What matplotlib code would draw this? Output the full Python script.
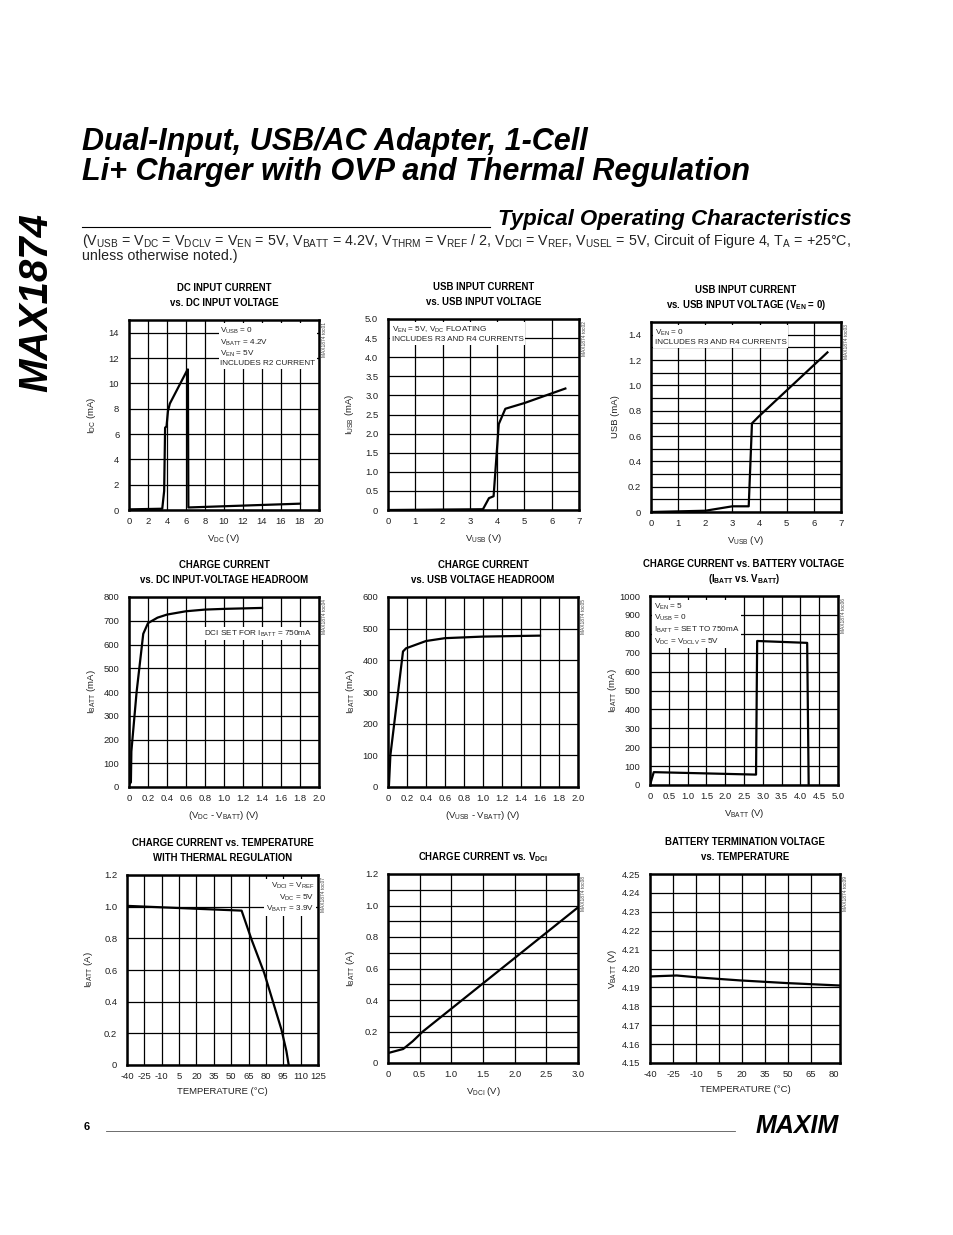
import matplotlib
matplotlib.use("Agg")
import matplotlib.pyplot as plt
from matplotlib.lines import Line2D

FONT = "Liberation Sans"
plt.rcParams['font.family'] = [FONT, 'DejaVu Sans']
plt.rcParams['mathtext.fontset'] = 'custom'
plt.rcParams['mathtext.rm'] = FONT
plt.rcParams['mathtext.it'] = FONT + ':italic'
plt.rcParams['mathtext.bf'] = FONT + ':bold'
plt.rcParams['mathtext.default'] = 'regular'
plt.rcParams['axes.unicode_minus'] = False

# ---- data ----
dc_v = [0, 3.5, 3.7, 3.8, 3.95, 4.1, 4.3, 6.1, 6.2, 6.25, 18]
dc_i = [0.05, 0.1, 1.5, 6.5, 6.6, 7.8, 8.4, 11.0, 11.1, 0.2, 0.5]

usb_v = [0, 3.48, 3.7, 3.87, 4.06, 4.3, 5.0, 6.5]
usb_i = [0, 0.02, 0.31, 0.36, 2.25, 2.65, 2.8, 3.18]

usb0_v = [0, 2.0, 3.0, 3.6, 3.72, 3.95, 5.5, 6.5]
usb0_i = [0, 0.01, 0.045, 0.045, 0.70, 0.75, 1.06, 1.26]

dch_v = [0, 0.02, 0.025, 0.08, 0.15, 0.2, 0.3, 0.4, 0.6, 0.8, 1.0, 1.4]
dch_i = [10, 20, 150, 400, 645, 690, 713, 726, 740, 747, 750, 754]

uch_v = [0, 0.01, 0.025, 0.158, 0.19, 0.4, 0.6, 1.0, 1.6]
uch_i = [0, 5, 100, 428, 438, 461, 470, 475, 478]

vb_v = [0, 0.1, 2.82, 2.85, 4.18, 4.22]
vb_i = [0, 68, 55, 762, 752, 0]

temp_t = [-40, 59, 67.7, 78.6, 93.4, 97.7, 99.7]
temp_i = [1.005, 0.975, 0.79, 0.58, 0.224, 0.088, 0]

dci_v = [0, 0.24, 0.39, 0.55, 3.0]
dci_i = [0.063, 0.089, 0.138, 0.2, 0.988]

term_t = [-40, -22.6, -7.4, 18.7, 49, 84]
term_v = [4.1958, 4.1963, 4.1952, 4.1937, 4.1923, 4.1910]

W, H = 954, 1235
fig = plt.figure(figsize=(W / 100, H / 100), dpi=100)
TXT = '#222222'


def fx(x):
    return x / W


def fy(y):
    return 1 - y / H


def make_axes(l, t, r, b):
    ax = fig.add_axes([l / W, 1 - b / H, (r - l) / W, (b - t) / H])
    for s in ax.spines.values():
        s.set_linewidth(1.8)
    ax.tick_params(length=0, labelsize=6.8, labelcolor=TXT, pad=7)
    ax.tick_params(axis='x', pad=5)
    ax.grid(True, color='black', linewidth=0.9)
    ax.set_axisbelow(True)
    return ax


def finish(ax, xlabel, ylabel, title_lines, toc):
    ax.set_xlabel(xlabel, fontsize=6.8, color=TXT)
    ax.set_ylabel(ylabel, fontsize=6.8, color=TXT)
    ax.xaxis.set_label_coords(0.5, -0.115)
    ax.yaxis.set_label_coords(-0.165, 0.5)
    pos = ax.get_position()
    cx = pos.x0 + pos.width / 2
    top_px = (1 - pos.y1) * H
    # title lines sit 32 px and 17 px above the plot frame
    offsets = [17] if len(title_lines) == 1 else [32, 17]
    for line, off in zip(title_lines, offsets):
        fig.text(cx, fy(top_px - off), line, ha='center', va='center',
                 fontsize=6.9, fontweight='bold')
    fig.text(pos.x1 + 0.006, pos.y1 - 0.002, toc, rotation=90, ha='center', va='top',
             fontsize=3.5, color='#444444')


def note(ax, x, y, s, ha='left'):
    ax.text(x, y, s, transform=ax.transAxes, ha=ha, va='top', fontsize=5.9, color=TXT,
            linespacing=1.2, bbox=dict(facecolor='white', edgecolor='none', pad=1.2))


lw = 1.6

# row 1
ax = make_axes(129, 320, 319, 510)
ax.plot(dc_v, dc_i, color='black', lw=lw)
ax.set_xlim(0, 20)
ax.set_ylim(0, 15)
ax.set_xticks(range(0, 21, 2))
ax.set_yticks(range(0, 15, 2))
note(ax, 0.48, 0.97, "V$_{USB}$ = 0\nV$_{BATT}$ = 4.2V\nV$_{EN}$ = 5V\nINCLUDES R2 CURRENT")
finish(ax, "V$_{DC}$ (V)", "I$_{DC}$ (mA)", ["DC INPUT CURRENT", "vs. DC INPUT VOLTAGE"], "MAX1874 toc01")

ax = make_axes(388, 319, 579, 510)
ax.plot(usb_v, usb_i, color='black', lw=lw)
ax.set_xlim(0, 7)
ax.set_ylim(0, 5)
ax.set_xticks(range(0, 8))
ax.set_yticks([i * 0.5 for i in range(11)])
ax.set_yticklabels(['0'] + ['%.1f' % (i * 0.5) for i in range(1, 11)])
note(ax, 0.02, 0.97, "V$_{EN}$ = 5V, V$_{DC}$ FLOATING\nINCLUDES R3 AND R4 CURRENTS")
finish(ax, "V$_{USB}$ (V)", "I$_{USB}$ (mA)", ["USB INPUT CURRENT", "vs. USB INPUT VOLTAGE"], "MAX1874 toc02")

ax = make_axes(651, 322, 841, 512)
ax.plot(usb0_v, usb0_i, color='black', lw=lw)
ax.set_xlim(0, 7)
ax.set_ylim(0, 1.5)
ax.set_xticks(range(0, 8))
ax.set_yticks([i * 0.1 for i in range(16)])
ax.set_yticklabels(['0' if i == 0 else ('%.1f' % (i * 0.1) if i % 2 == 0 else '') for i in range(16)])
note(ax, 0.02, 0.97, "V$_{EN}$ = 0\nINCLUDES R3 AND R4 CURRENTS")
finish(ax, "V$_{USB}$ (V)", "USB (mA)", ["USB INPUT CURRENT", "vs. USB INPUT VOLTAGE (V$_{EN}$ = 0)"],
       "MAX1874 toc03")

# row 2
ax = make_axes(129, 597, 319, 787)
ax.plot(dch_v, dch_i, color='black', lw=lw)
ax.set_xlim(0, 2)
ax.set_ylim(0, 800)
ax.set_xticks([i * 0.2 for i in range(11)])
ax.set_xticklabels(['0'] + ['%.1f' % (i * 0.2) for i in range(1, 11)])
ax.set_yticks(range(0, 801, 100))
note(ax, 0.96, 0.835, "DCI SET FOR I$_{BATT}$ = 750mA", ha='right')
finish(ax, "(V$_{DC}$ - V$_{BATT}$) (V)", "I$_{BATT}$ (mA)",
       ["CHARGE CURRENT", "vs. DC INPUT-VOLTAGE HEADROOM"], "MAX1874 toc04")

ax = make_axes(388, 597, 578, 787)
ax.plot(uch_v, uch_i, color='black', lw=lw)
ax.set_xlim(0, 2)
ax.set_ylim(0, 600)
ax.set_xticks([i * 0.2 for i in range(11)])
ax.set_xticklabels(['0'] + ['%.1f' % (i * 0.2) for i in range(1, 11)])
ax.set_yticks(range(0, 601, 100))
finish(ax, "(V$_{USB}$ - V$_{BATT}$) (V)", "I$_{BATT}$ (mA)",
       ["CHARGE CURRENT", "vs. USB VOLTAGE HEADROOM"], "MAX1874 toc05")

ax = make_axes(650, 596, 838, 785)
ax.plot(vb_v, vb_i, color='black', lw=lw)
ax.set_xlim(0, 5)
ax.set_ylim(0, 1000)
ax.set_xticks([i * 0.5 for i in range(11)])
ax.set_xticklabels(['0'] + ['%.1f' % (i * 0.5) for i in range(1, 11)])
ax.set_yticks(range(0, 1001, 100))
note(ax, 0.02, 0.97, "V$_{EN}$ = 5\nV$_{USB}$ = 0\nI$_{BATT}$ = SET TO 750mA\nV$_{DC}$ = V$_{DCLV}$ = 5V")
finish(ax, "V$_{BATT}$ (V)", "I$_{BATT}$ (mA)",
       ["CHARGE CURRENT vs. BATTERY VOLTAGE", "(I$_{BATT}$ vs. V$_{BATT}$)"], "MAX1874 toc06")

# row 3
ax = make_axes(127, 875, 318, 1065)
ax.plot(temp_t, temp_i, color='black', lw=lw)
ax.set_xlim(-40, 125)
ax.set_ylim(0, 1.2)
ax.set_xticks(range(-40, 126, 15))
ax.set_yticks([i * 0.2 for i in range(7)])
ax.set_yticklabels(['0'] + ['%.1f' % (i * 0.2) for i in range(1, 7)])
note(ax, 0.98, 0.97, "V$_{DCI}$ = V$_{REF}$\nV$_{DC}$ = 5V\nV$_{BATT}$ = 3.9V", ha='right')
finish(ax, "TEMPERATURE (°C)", "I$_{BATT}$ (A)",
       ["CHARGE CURRENT vs. TEMPERATURE", "WITH THERMAL REGULATION"], "MAX1874 toc07")

ax = make_axes(388, 874, 578, 1063)
ax.plot(dci_v, dci_i, color='black', lw=lw)
ax.set_xlim(0, 3)
ax.set_ylim(0, 1.2)
ax.set_xticks([i * 0.5 for i in range(7)])
ax.set_xticklabels(['0'] + ['%.1f' % (i * 0.5) for i in range(1, 7)])
ax.set_yticks([i * 0.1 for i in range(13)])
ax.set_yticklabels(['0' if i == 0 else ('%.1f' % (i * 0.1) if i % 2 == 0 else '') for i in range(13)])
finish(ax, "V$_{DCI}$ (V)", "I$_{BATT}$ (A)", ["CHARGE CURRENT vs. V$_{DCI}$"], "MAX1874 toc08")

ax = make_axes(650, 874, 840, 1063)
ax.plot(term_t, term_v, color='black', lw=lw)
ax.set_xlim(-40, 84)
ax.set_ylim(4.15, 4.25)
ax.set_xticks(range(-40, 81, 15))
ax.set_yticks([4.15 + i * 0.01 for i in range(11)])
ax.set_yticklabels(['%.2f' % (4.15 + i * 0.01) for i in range(11)])
ax.xaxis.get_gridlines()[-1].set_visible(False)
finish(ax, "TEMPERATURE (°C)", "V$_{BATT}$ (V)",
       ["BATTERY TERMINATION VOLTAGE", "vs. TEMPERATURE"], "MAX1874 toc09")

# ---- page furniture ----
fig.text(fx(82), fy(127), "Dual-Input, USB/AC Adapter, 1-Cell\nLi+ Charger with OVP and Thermal Regulation",
         fontsize=22, fontweight='bold', style='italic', va='top', ha='left', linespacing=0.98)
fig.text(fx(36), fy(302), "MAX1874", rotation=90, fontsize=29, fontweight='bold', style='italic',
         ha='center', va='center')
fig.text(fx(852), fy(219), "Typical Operating Characteristics", fontsize=16, fontweight='bold',
         style='italic', ha='right', va='center')
fig.add_artist(Line2D([fx(82), fx(490)], [fy(227), fy(227)], color='black', lw=0.8))
fig.text(fx(82), fy(241),
         "(V$_{USB}$ = V$_{DC}$ = V$_{DCLV}$ = V$_{EN}$ = 5V, V$_{BATT}$ = 4.2V, V$_{THRM}$ = V$_{REF}$ / 2, "
         "V$_{DCI}$ = V$_{REF}$, V$_{USEL}$ = 5V, Circuit of Figure 4, T$_{A}$ = +25°C,",
         fontsize=10.3, ha='left', va='center', color=TXT)
fig.text(fx(82), fy(256), "unless otherwise noted.)", fontsize=10.3, ha='left', va='center', color=TXT)

fig.text(fx(84), fy(1127), "6", fontsize=8, fontweight='bold', ha='left', va='center')
fig.add_artist(Line2D([fx(106), fx(735)], [fy(1131), fy(1131)], color='#555555', lw=0.6))
fig.text(fx(797), fy(1126), "MAXIM", fontsize=18, fontweight='bold', style='italic', ha='center', va='center')

fig.savefig("out.png", dpi=100)
